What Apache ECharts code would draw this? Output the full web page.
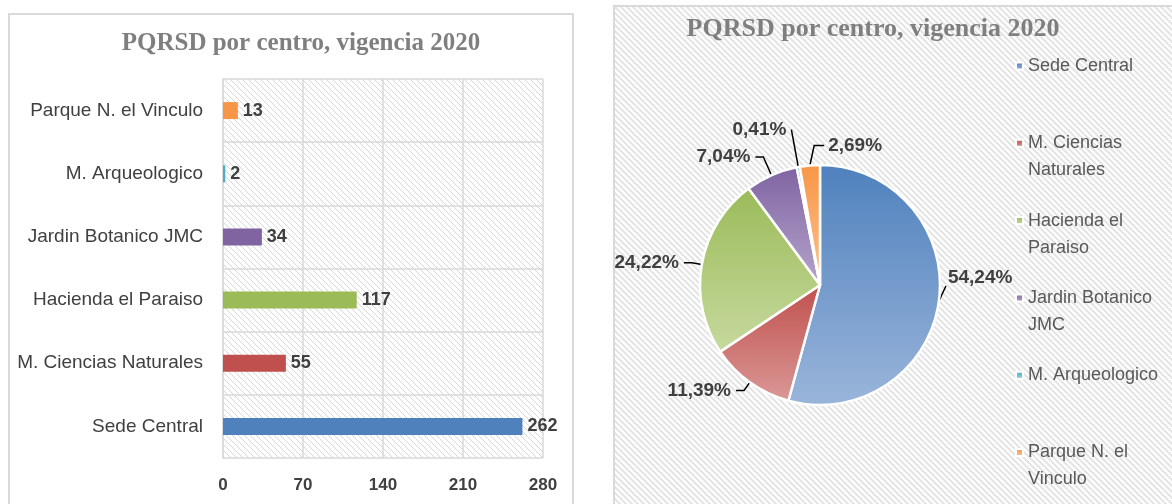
<!DOCTYPE html>
<html>
<head>
<meta charset="utf-8">
<script src="https://cdn.jsdelivr.net/npm/echarts@6/dist/echarts.min.js"></script>
<style>
html, body { margin: 0; padding: 0; width: 1172px; height: 504px; overflow: hidden; background: #fff; }
#bar { position: absolute; left: 8px; top: 13px; width: 562px; height: 500px; border: 2px solid #d9d9d9; }
#pie { position: absolute; left: 613px; top: 5px; width: 570px; height: 510px; border: 2px solid #d9d9d9; }
</style>
</head>
<body>
<div id="bar"></div>
<div id="pie"></div>
<script>
// datos
var titulo = 'PQRSD por centro, vigencia 2020';
var centros = ['Sede Central', 'M. Ciencias Naturales', 'Hacienda el Paraiso', 'Jardin Botanico JMC', 'M. Arqueologico', 'Parque N. el Vinculo'];
var pqrsd = [262, 55, 117, 34, 2, 13];
var ticksX = [0, 70, 140, 210, 280];
// nombres de la leyenda partidos en dos lineas como en Excel
var leyenda = ['Sede Central', 'M. Ciencias\nNaturales', 'Hacienda el\nParaiso', 'Jardin Botanico\nJMC', 'M. Arqueologico', 'Parque N. el\nVinculo'];

var colores = ['#4f81bd', '#c0504d', '#9bbb59', '#8064a2', '#4bacc6', '#f79646'];
var coloresClaros = ['#9ab5da', '#da9896', '#c6d99e', '#b5a4cb', '#95cfdf', '#fbc293'];
var fuente = 'Liberation Sans';

// patron de rayas diagonales
function rayado(s, color, lw) {
  var c = document.createElement('canvas');
  c.width = s; c.height = s;
  var g = c.getContext('2d');
  g.strokeStyle = color;
  g.lineWidth = lw;
  g.beginPath();
  g.moveTo(-s, 0); g.lineTo(s, 2 * s);
  g.moveTo(0, 0); g.lineTo(s, s);
  g.moveTo(0, -s); g.lineTo(2 * s, s);
  g.stroke();
  return c;
}

// grafico de barras
var barChart = echarts.init(document.getElementById('bar'));
barChart.setOption({
  backgroundColor: '#ffffff',
  animation: false,
  title: {
    text: titulo,
    left: 286,
    textAlign: 'center',
    top: 11,
    textStyle: { fontFamily: 'Liberation Serif', fontWeight: 'bold', fontSize: 25, color: '#7f7f7f' }
  },
  grid: {
    left: 213, top: 64, width: 320, height: 379,
    show: true, borderWidth: 0,
    backgroundColor: { image: rayado(6, '#d6d6d6', 1), repeat: 'repeat' }
  },
  xAxis: {
    type: 'value', min: ticksX[0], max: ticksX[ticksX.length - 1], interval: ticksX[1] - ticksX[0],
    axisLine: { show: false },
    axisTick: { show: false },
    splitLine: { lineStyle: { color: '#d9d9d9', width: 1.5 } },
    axisLabel: { fontFamily: fuente, fontWeight: 'bold', fontSize: 17, color: '#404040', margin: 19 }
  },
  yAxis: {
    type: 'category', data: centros,
    axisLine: { lineStyle: { color: '#d9d9d9', width: 1.5 } },
    axisTick: { length: 7, lineStyle: { color: '#d9d9d9', width: 1.5 } },
    splitLine: { show: true, lineStyle: { color: '#d9d9d9', width: 1.5 } },
    axisLabel: { fontFamily: fuente, fontSize: 19, color: '#404040', margin: 20 }
  },
  series: [{
    type: 'bar',
    barWidth: 17,
    data: pqrsd.map(function (v, i) { return { value: v, itemStyle: { color: colores[i] } }; }),
    label: { show: true, position: 'right', distance: 5, fontFamily: fuente, fontWeight: 'bold', fontSize: 18, color: '#404040' }
  }]
});

// grafico de torta
var total = pqrsd.reduce(function (a, b) { return a + b; }, 0);

// una leyenda por elemento para dejar el cuadrito en la primera linea
var leyendas = centros.map(function (n, i) {
  var dosLineas = leyenda[i].indexOf('\n') >= 0;
  return {
    data: [n],
    left: 400,
    top: 45.5 + i * 77.3 - (dosLineas ? 27 : 0),
    padding: 0,
    icon: 'rect',
    itemWidth: 7,
    itemHeight: 7,
    formatter: function () { return dosLineas ? '\n' + leyenda[i] : leyenda[i]; },
    textStyle: { fontFamily: fuente, fontSize: 18, color: '#595959', lineHeight: 27 }
  };
});

// largo de la linea guia para las tajadas pequeñas de arriba
var largoGuia = { 3: 20, 4: 38, 5: 20 };
var largoGuia2 = { 4: 0 };

var pieChart = echarts.init(document.getElementById('pie'));
pieChart.setOption({
  animation: false,
  backgroundColor: { image: rayado(6, '#e4e4e4', 2), repeat: 'repeat' },
  title: {
    text: titulo,
    left: 253,
    textAlign: 'center',
    top: 4,
    textStyle: { fontFamily: 'Liberation Serif', fontWeight: 'bold', fontSize: 26, color: '#7f7f7f' }
  },
  legend: leyendas,
  series: [{
    type: 'pie',
    center: [205, 278],
    radius: 120,
    startAngle: 90,
    avoidLabelOverlap: false,
    data: centros.map(function (n, i) {
      var d = {
        name: n, value: pqrsd[i],
        itemStyle: {
          color: new echarts.graphic.LinearGradient(0, 0, 0, 1, [
            { offset: 0, color: colores[i] },
            { offset: 1, color: coloresClaros[i] }
          ])
        }
      };
      if (largoGuia[i] != null) {
        d.labelLine = { length: largoGuia[i], length2: largoGuia2[i] != null ? largoGuia2[i] : 8 };
      }
      return d;
    }),
    itemStyle: { borderColor: '#ffffff', borderWidth: 2.5 },
    label: {
      formatter: function (p) { return (p.value / total * 100).toFixed(2).replace('.', ',') + '%'; },
      fontFamily: fuente, fontWeight: 'bold', fontSize: 19, color: '#404040'
    },
    labelLine: { length: 10, length2: 8, lineStyle: { color: '#000000', width: 1.5 } },
    // ajustes al estilo de Excel: la primera etiqueta sube, la ultima va a la derecha
    labelLayout: function (p) {
      if (!p.labelLinePoints) return {};
      var pts = p.labelLinePoints;
      if (p.dataIndex === 0) {
        var q = [pts[0][0] + 7, pts[0][1] - 15];
        return {
          x: q[0] + 2, y: q[1] - 8, align: 'left', verticalAlign: 'middle',
          labelLinePoints: [pts[0], q, q]
        };
      }
      if (p.dataIndex === centros.length - 1) {
        var p1 = [pts[1][0] + 6, pts[1][1]];
        var x2 = p1[0] + 10;
        return {
          x: x2 + 4, y: p1[1], align: 'left', verticalAlign: 'middle',
          labelLinePoints: [pts[0], p1, [x2, p1[1]]]
        };
      }
      return {};
    }
  }]
});
</script>
</body>
</html>
